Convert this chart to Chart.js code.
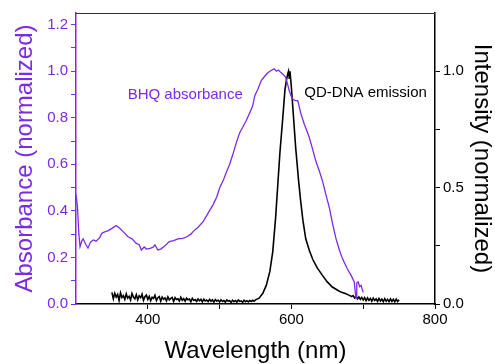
<!DOCTYPE html>
<html>
<head>
<meta charset="utf-8">
<script src="https://cdn.jsdelivr.net/npm/chart.js@4"></script>
<style>
  html, body { margin: 0; padding: 0; background: #fff; }
  #wrap { width: 495px; height: 364px; }
</style>
</head>
<body>
<div id="wrap"><canvas id="chart"></canvas></div>
<script>
const PURPLE = '#7b2ae6';

// BHQ absorbance (left axis)
const absWavelength = [300, 302, 304, 305.6, 308, 310, 313, 316.7, 320, 324, 328, 333, 336, 340, 345, 350, 356, 361, 366, 372, 378, 384, 388, 391, 395, 398, 403, 407, 410, 414, 418, 424, 430, 436, 442, 449, 455, 460, 463, 470, 477, 484, 491, 496, 500, 505, 509, 514, 518.5, 523, 528, 532, 537, 542, 546, 549, 553, 558, 562, 566, 570, 573, 576, 579, 582, 585, 589, 592, 595, 597, 600, 602, 605, 609, 613, 618, 622, 625, 630, 634, 639, 643.5, 648, 653, 657, 662, 667, 671, 675, 679, 683, 687.5, 689, 690, 691, 693, 695, 697, 700];
const absValues = [0.47, 0.42, 0.3, 0.246, 0.27, 0.28, 0.26, 0.24, 0.265, 0.275, 0.27, 0.285, 0.304, 0.31, 0.315, 0.325, 0.337, 0.325, 0.31, 0.29, 0.28, 0.26, 0.255, 0.232, 0.245, 0.236, 0.239, 0.243, 0.254, 0.232, 0.236, 0.25, 0.268, 0.272, 0.28, 0.282, 0.29, 0.3, 0.311, 0.33, 0.354, 0.39, 0.427, 0.46, 0.498, 0.53, 0.563, 0.6, 0.643, 0.69, 0.736, 0.758, 0.787, 0.822, 0.85, 0.895, 0.92, 0.96, 0.975, 0.99, 1.0, 1.005, 1.01, 1.0, 1.005, 0.995, 0.985, 0.974, 0.94, 0.916, 0.89, 0.88, 0.875, 0.873, 0.82, 0.772, 0.74, 0.714, 0.66, 0.614, 0.57, 0.527, 0.47, 0.412, 0.35, 0.282, 0.23, 0.196, 0.17, 0.145, 0.124, 0.095, 0.05, 0.023, 0.09, 0.095, 0.075, 0.08, 0.05];

// QD-DNA emission (right axis)
const emWavelength = [
  350, 352, 354, 356, 358, 360, 362, 364, 366, 368, 370, 372, 374, 376, 378, 380, 382, 384, 386, 388, 390, 392, 394, 396, 398, 400,
  402, 404, 406, 408, 410, 412, 414, 416, 418, 420, 422, 424, 426, 428, 430, 432, 434, 436, 438, 440, 442, 444, 446, 448, 450,
  452, 454, 456, 458, 460, 462, 464, 466, 468, 470, 472, 474, 476, 478, 480, 482, 484, 486, 488, 490, 492, 494, 496, 498, 500,
  502, 504, 506, 508, 510, 512, 514, 516, 518, 520, 522, 524, 526, 528, 530, 532, 534, 536, 538, 540, 542, 544, 546, 548, 550,
  555, 560, 565, 570, 574, 578, 581, 584, 588, 591, 593, 595, 596, 597, 598, 600, 603, 606, 610, 613, 616, 620, 625, 630, 636,
  643, 650, 657, 665, 670, 676, 680, 684, 686, 688, 690, 692, 694, 696, 698, 700, 702, 704, 706, 708, 710, 712, 714, 716, 718,
  720, 722, 724, 726, 728, 730, 732, 734, 736, 738, 740, 742, 744, 746, 748, 750
];
const emValues = [
  0.05, 0.022, 0.046, 0.03, 0.041, 0.015, 0.048, 0.028, 0.036, 0.02, 0.044, 0.025, 0.033, 0.017, 0.045, 0.03, 0.022, 0.04, 0.018, 0.035, 0.027, 0.042, 0.016, 0.031, 0.038, 0.02,
  0.033, 0.014, 0.029, 0.024, 0.037, 0.015, 0.027, 0.032, 0.012, 0.03, 0.02, 0.026, 0.013, 0.031, 0.018, 0.024, 0.028, 0.011, 0.027, 0.019, 0.022, 0.013, 0.029, 0.016, 0.023,
  0.012, 0.025, 0.018, 0.021, 0.01, 0.024, 0.015, 0.019, 0.011, 0.022, 0.014, 0.02, 0.009, 0.021, 0.013, 0.017, 0.01, 0.02, 0.012, 0.018, 0.008, 0.019, 0.013, 0.016, 0.009,
  0.018, 0.011, 0.015, 0.008, 0.017, 0.012, 0.014, 0.007, 0.016, 0.01, 0.015, 0.008, 0.017, 0.011, 0.013, 0.007, 0.016, 0.01, 0.014, 0.009, 0.015, 0.011, 0.016, 0.012, 0.018,
  0.025, 0.045, 0.08, 0.14, 0.224, 0.37, 0.51, 0.65, 0.8, 0.92, 0.96, 0.99, 1.0, 0.97, 1.0, 0.93, 0.8, 0.67, 0.53, 0.44, 0.36, 0.28, 0.23, 0.19, 0.155,
  0.124, 0.095, 0.073, 0.058, 0.05, 0.044, 0.038, 0.032, 0.036, 0.026, 0.033, 0.022, 0.03, 0.02, 0.028, 0.017, 0.027, 0.014, 0.026, 0.016, 0.024, 0.012, 0.025, 0.015, 0.022,
  0.011, 0.024, 0.013, 0.021, 0.01, 0.023, 0.012, 0.02, 0.01, 0.022, 0.011, 0.02, 0.009, 0.021, 0.01, 0.018
];

const xMajor = [400, 600, 800];
const leftMajor = [0, 0.2, 0.4, 0.6, 0.8, 1.0, 1.2];
const rightMajor = [0, 0.5, 1.0];

const toPoints = (xs, ys) => xs.map((x, i) => ({ x: x, y: ys[i] }));
const isMajor = (list, v) => list.some(m => Math.abs(m - v) < 1e-6);

const FONT = 'Liberation Sans, Arial, Helvetica, sans-serif';

// top frame line + in-plot labels
const extras = {
  id: 'extras',
  afterDraw(chart) {
    const { ctx, chartArea, scales } = chart;
    ctx.save();
    ctx.strokeStyle = '#333';
    ctx.lineWidth = 1;
    ctx.beginPath();
    ctx.moveTo(chartArea.left, chartArea.top + 0.5);
    ctx.lineTo(chartArea.right, chartArea.top + 0.5);
    ctx.stroke();

    ctx.font = '15px ' + FONT;
    ctx.textBaseline = 'middle';
    ctx.textAlign = 'left';
    ctx.fillStyle = PURPLE;
    ctx.fillText('BHQ absorbance', scales.x.getPixelForValue(372), scales.y.getPixelForValue(0.9));
    ctx.fillStyle = '#000';
    ctx.fillText('QD-DNA emission', scales.x.getPixelForValue(618), scales.y2.getPixelForValue(0.905));
    ctx.restore();
  }
};

new Chart(document.getElementById('chart'), {
  type: 'line',
  data: {
    datasets: [
      {
        label: 'BHQ absorbance',
        data: toPoints(absWavelength, absValues),
        borderColor: PURPLE,
        borderWidth: 1.3,
        pointRadius: 0,
        tension: 0,
        yAxisID: 'y'
      },
      {
        label: 'QD-DNA emission',
        data: toPoints(emWavelength, emValues),
        borderColor: '#000',
        borderWidth: 1.6,
        pointRadius: 0,
        tension: 0,
        yAxisID: 'y2'
      }
    ]
  },
  options: {
    responsive: true,
    maintainAspectRatio: false,
    animation: false,
    layout: { padding: { top: 13, left: 0, right: 0, bottom: 0 } },
    plugins: { legend: { display: false }, tooltip: { enabled: false } },
    scales: {
      x: {
        type: 'linear',
        min: 300,
        max: 800,
        afterFit: s => { s.height = 60; },
        afterBuildTicks: s => { s.ticks = s.ticks.filter(t => t.value > 300); },
        ticks: {
          stepSize: 100,
          includeBounds: false,
          autoSkip: false,
          maxRotation: 0,
          padding: 2,
          color: '#000',
          font: { family: FONT, size: 15 },
          callback: v => isMajor(xMajor, v) ? String(v) : ''
        },
        grid: { display: true, drawOnChartArea: false, tickLength: 5, color: '#000' },
        border: { color: '#000', width: 1.5 },
        title: {
          display: true,
          text: 'Wavelength (nm)',
          color: '#000',
          font: { family: FONT, size: 24, lineHeight: 1 },
          padding: { top: 0, bottom: 1 }
        }
      },
      y: {
        position: 'left',
        min: 0,
        max: 1.25,
        afterFit: s => { s.width = 76; },
        afterBuildTicks: s => { s.ticks = s.ticks.filter(t => t.value < 1.24); },
        ticks: {
          stepSize: 0.1,
          includeBounds: false,
          autoSkip: false,
          padding: 3,
          color: PURPLE,
          font: { family: FONT, size: 15 },
          callback: v => isMajor(leftMajor, v) ? v.toFixed(1) : ''
        },
        grid: { display: true, drawOnChartArea: false, tickLength: 5, color: PURPLE },
        border: { color: PURPLE, width: 1.5 },
        title: {
          display: true,
          text: 'Absorbance (normalized)',
          color: PURPLE,
          font: { family: FONT, size: 24, lineHeight: 1 },
          padding: { top: 13, bottom: 0 }
        }
      },
      y2: {
        position: 'right',
        min: 0,
        max: 1.25,
        afterFit: s => { s.width = 60; },
        afterBuildTicks: s => { s.ticks = s.ticks.filter(t => t.value < 1.24); },
        ticks: {
          stepSize: 0.25,
          includeBounds: false,
          autoSkip: false,
          padding: 3,
          color: '#000',
          font: { family: FONT, size: 15 },
          callback: v => isMajor(rightMajor, v) ? v.toFixed(1) : ''
        },
        grid: { display: true, drawOnChartArea: false, tickLength: 5, color: '#000' },
        border: { color: '#000', width: 1.5 },
        title: {
          display: true,
          text: 'Intensity (normalized)',
          color: '#000',
          font: { family: FONT, size: 24, lineHeight: 1 },
          padding: { top: 1, bottom: 0 }
        }
      }
    }
  },
  plugins: [extras]
});
</script>
</body>
</html>
